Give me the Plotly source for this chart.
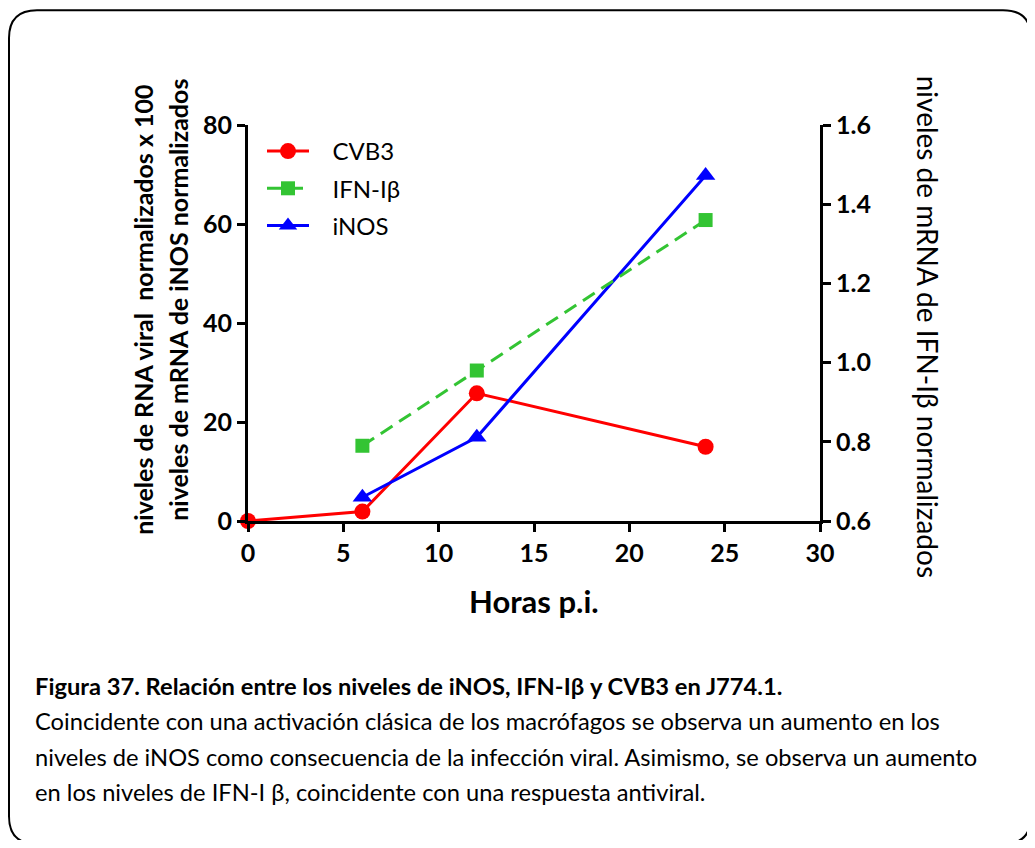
import plotly.graph_objects as go

# ---------------- data ----------------
hours_cvb3 = [0, 6, 12, 24]
cvb3 = [0, 1.9, 25.8, 15.0]
hours_inos = [6, 12, 24]
inos = [4.8, 16.9, 69.8]
hours_ifn = [6, 12, 24]
ifn = [0.79, 0.98, 1.36]

series_names = ["CVB3", "IFN-Iβ", "iNOS"]
x_ticks = [0, 5, 10, 15, 20, 25, 30]
y_left_ticks = [0, 20, 40, 60, 80]
y_right_ticks = [0.6, 0.8, 1.0, 1.2, 1.4, 1.6]

# ---------------- layout geometry (screen px) ----------------
OFF = 8                      # default body margin of the html page
W, H = 1035 - 2 * OFF, 848 - 2 * OFF
PX0, PX1 = 248, 820          # plot area left/right
PY0, PY1 = 125, 521.5        # plot area top/bottom
ml = PX0 - OFF
mr = (W + OFF) - PX1
mt = PY0 - OFF
mb = (H + OFF) - PY1


def px(x):
    return (x - PX0) / (PX1 - PX0)


def py(y):
    return (PY1 - y) / (PY1 - PY0)


FONT = "Lato"
RED = "#ff0000"
GREEN = "#33c433"
BLUE = "#0000ff"
PAD = "\u00a0\u00a0\u00a0"

fig = go.Figure()
fig.add_trace(go.Scatter(
    x=hours_cvb3, y=cvb3, name=PAD + series_names[0], mode="lines+markers",
    line=dict(color=RED, width=3),
    marker=dict(symbol="circle", size=16, color=RED),
    cliponaxis=False, legendgroup="a"))
fig.add_trace(go.Scatter(
    x=hours_ifn, y=ifn, name=PAD + series_names[1], mode="lines+markers", yaxis="y2",
    line=dict(color=GREEN, width=3, dash="14px,8px"),
    marker=dict(symbol="square", size=14, color=GREEN),
    cliponaxis=False, legendgroup="b"))
fig.add_trace(go.Scatter(
    x=hours_inos, y=inos, name=PAD + series_names[2], mode="lines+markers",
    line=dict(color=BLUE, width=3),
    marker=dict(symbol="triangle-up", size=17, color=BLUE),
    cliponaxis=False, legendgroup="c"))

axis_common = dict(
    showline=True, linecolor="black", linewidth=3,
    ticks="outside", ticklen=8, tickwidth=3, tickcolor="black",
    showgrid=False, zeroline=False,
    tickfont=dict(family=FONT, size=25, color="black", weight="bold"),
)

fig.update_layout(
    width=W, height=H,
    margin=dict(l=ml, r=mr, t=mt, b=mb),
    paper_bgcolor="white", plot_bgcolor="white",
    font=dict(family=FONT, color="black"),
    xaxis=dict(range=[0, 30], tickvals=x_ticks, **axis_common),
    yaxis=dict(range=[0, 80], tickvals=y_left_ticks, **axis_common),
    yaxis2=dict(range=[0.6, 1.6], tickvals=y_right_ticks,
                ticktext=[f"{v:.1f}" for v in y_right_ticks],
                overlaying="y", side="right", anchor="x", **axis_common),
    legend=dict(x=px(262), y=py(129), xanchor="left", yanchor="top",
                font=dict(family=FONT, size=24, color="black"),
                bgcolor="rgba(0,0,0,0)", tracegroupgap=3,
                itemwidth=42),
    showlegend=True,
)

# rounded frame around the whole figure
fx0, fy0, fx1, fy1, r = 9, 10, 1031, 845, 28
def P(x, y):
    return f"{px(x):.5f},{py(y):.5f}"
path = (f"M {P(fx0 + r, fy0)} L {P(fx1 - r, fy0)} Q {P(fx1, fy0)} {P(fx1, fy0 + r)} "
        f"L {P(fx1, fy1 - r)} Q {P(fx1, fy1)} {P(fx1 - r, fy1)} "
        f"L {P(fx0 + r, fy1)} Q {P(fx0, fy1)} {P(fx0, fy1 - r)} "
        f"L {P(fx0, fy0 + r)} Q {P(fx0, fy0)} {P(fx0 + r, fy0)} Z")
fig.add_shape(type="path", path=path, xref="paper", yref="paper",
              line=dict(color="black", width=2), layer="below")

ann = []
# axis titles
ann.append(dict(text="<b>niveles de RNA viral  normalizados x 100</b>",
                x=px(143), y=py(310), textangle=-90,
                font=dict(family=FONT, size=25, color="black")))
ann.append(dict(text="<b>niveles de mRNA de iNOS normalizados</b>",
                x=px(178), y=py(300), textangle=-90,
                font=dict(family=FONT, size=25, color="black")))
ann.append(dict(text="niveles de mRNA de IFN-Iβ normalizados",
                x=px(928), y=py(327), textangle=90,
                font=dict(family=FONT, size=28, color="black")))
ann.append(dict(text="<b>Horas p.i.</b>", x=px(534), y=py(602),
                font=dict(family=FONT, size=31, color="black")))

# caption
cap_font = dict(family=FONT, size=23.7, color="black")
ann.append(dict(text="<b>Figura 37. Relación entre los niveles de iNOS, IFN-Iβ y CVB3 en J774.1.</b>",
                x=px(33), y=py(687), xanchor="left", font=cap_font))
lines = [
    "Coincidente con una activación clásica de los macrófagos se observa un aumento en los",
    "niveles de iNOS como consecuencia de la infección viral. Asimismo, se observa un aumento",
    "en los niveles de IFN-I β, coincidente con una respuesta antiviral.",
]
for t, yy in zip(lines, [722, 758, 793]):
    ann.append(dict(text=t, x=px(33), y=py(yy), xanchor="left", font=cap_font))

for a in ann:
    a.update(xref="paper", yref="paper", showarrow=False,
             xanchor=a.get("xanchor", "center"), yanchor="middle")
fig.update_layout(annotations=ann)

fig.write_html("out.html")
